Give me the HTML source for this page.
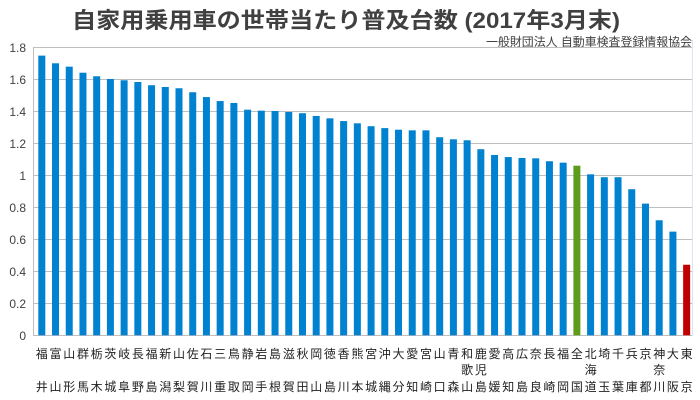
<!DOCTYPE html>
<html><head><meta charset="utf-8"><style>
html,body{margin:0;padding:0;background:#fff;}
svg{display:block;font-family:"Liberation Sans","Noto Sans CJK JP",sans-serif;}
</style></head><body>
<svg width="700" height="400" viewBox="0 0 700 400" xmlns="http://www.w3.org/2000/svg">
<text x="72" y="28" font-size="22" font-weight="bold" fill="#404040" textLength="548" lengthAdjust="spacingAndGlyphs">自家用乗用車の世帯当たり普及台数 (2017年3月末)</text>
<text x="692" y="46" font-size="12" fill="#404040" text-anchor="end" textLength="206" lengthAdjust="spacingAndGlyphs">一般財団法人 自動車検査登録情報協会</text>
<g stroke="#bfbfbf" stroke-width="1">
<line x1="33" y1="47.5" x2="692" y2="47.5"/>
<line x1="33" y1="79.5" x2="692" y2="79.5"/>
<line x1="33" y1="111.5" x2="692" y2="111.5"/>
<line x1="33" y1="143.5" x2="692" y2="143.5"/>
<line x1="33" y1="175.5" x2="692" y2="175.5"/>
<line x1="33" y1="207.5" x2="692" y2="207.5"/>
<line x1="33" y1="239.5" x2="692" y2="239.5"/>
<line x1="33" y1="271.5" x2="692" y2="271.5"/>
<line x1="33" y1="303.5" x2="692" y2="303.5"/>
<line x1="33" y1="335.5" x2="692" y2="335.5"/>
<line x1="33.5" y1="47" x2="33.5" y2="336"/>
<line x1="692.5" y1="40" x2="692.5" y2="336" stroke="#dbe5f1"/>
</g>
<g font-size="12" fill="#404040" text-anchor="end">
<text x="26" y="52">1.8</text><text x="26" y="84">1.6</text><text x="26" y="116">1.4</text>
<text x="26" y="148">1.2</text><text x="26" y="180">1</text><text x="26" y="212">0.8</text>
<text x="26" y="244">0.6</text><text x="26" y="276">0.4</text><text x="26" y="308">0.2</text>
<text x="26" y="340">0</text>
</g>
<g id="bars"></g>
<g id="l1" font-size="12" fill="#222" text-anchor="middle"></g>
<script>
var v=[1.748,1.70,1.679,1.641,1.619,1.602,1.594,1.583,1.563,1.552,1.544,1.519,1.489,1.464,1.452,1.41,1.404,1.402,1.396,1.388,1.371,1.356,1.339,1.325,1.307,1.295,1.285,1.281,1.281,1.238,1.225,1.219,1.163,1.127,1.114,1.108,1.106,1.088,1.079,1.06,1.006,0.988,0.988,0.913,0.823,0.719,0.648,0.441];
var t1="福富山群栃茨岐長福新山佐石三鳥静岩島滋秋岡徳香熊宮沖大愛宮山青和鹿愛高広奈長福全北埼千兵京神大東";
var t3="井山形馬木城阜野島潟梨賀川重取岡手根賀田山島川本城縄分知崎口森山島媛知島良崎岡国道玉葉庫都川阪京";
var ns="http://www.w3.org/2000/svg",b=document.getElementById("bars"),l=document.getElementById("l1");
for(var i=0;i<48;i++){
 var x=38.3+i*13.72,y=335.3-v[i]*160;
 var r=document.createElementNS(ns,"rect");
 r.setAttribute("x",x);r.setAttribute("y",y);r.setAttribute("width",7);r.setAttribute("height",335.3-y);
 r.setAttribute("fill",i==39?"#5e9c1e":(i==47?"#c00000":"#0082d0"));
 b.appendChild(r);
 var cx=x+3.5;
 var a=document.createElementNS(ns,"text");a.setAttribute("x",cx);a.setAttribute("y",358);a.textContent=t1[i];l.appendChild(a);
 var c=document.createElementNS(ns,"text");c.setAttribute("x",cx);c.setAttribute("y",391);c.textContent=t3[i];l.appendChild(c);
}
var m={31:"歌",32:"児",40:"海",45:"奈"};
for(var k in m){var cx=38.3+k*13.72+3.5;var d=document.createElementNS(ns,"text");d.setAttribute("x",cx);d.setAttribute("y",374);d.textContent=m[k];l.appendChild(d);}
</script>
</svg>
</body></html>
